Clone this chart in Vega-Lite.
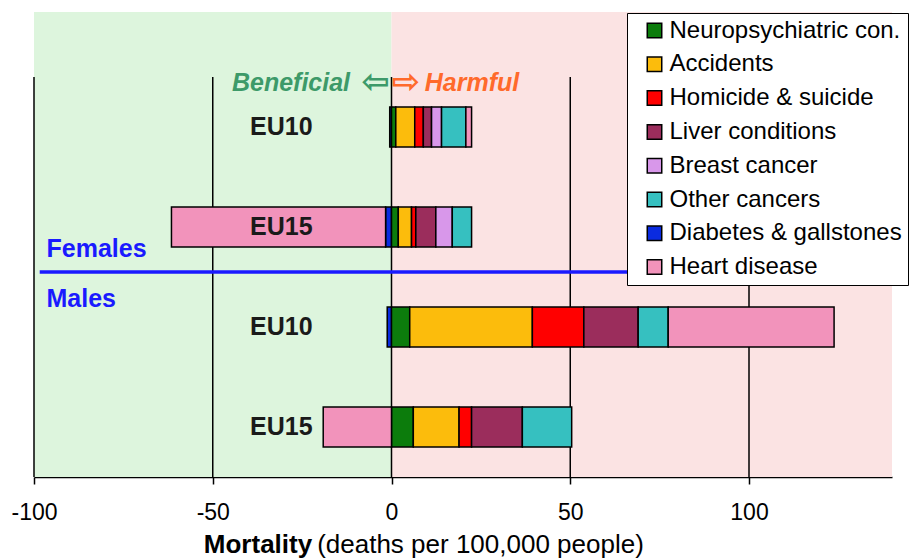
{
  "$schema": "https://vega.github.io/schema/vega-lite/v6.json",
  "width": 858,
  "height": 465,
  "autosize": {"type": "none"},
  "padding": {"left": 34, "top": 12, "right": 22, "bottom": 82},
  "background": "white",
  "config": {"font": "Liberation Sans", "view": {"stroke": null}},
  "datasets": {
    "zones": [
      {"zone": "Beneficial", "from": -100, "to": 0},
      {"zone": "Harmful", "from": 0, "to": 140}
    ],
    "grid": [{"v": -100}, {"v": -50}, {"v": 0}, {"v": 50}, {"v": 100}],
    "bars": [
      {"g": "F EU10", "cause": "Diabetes & gallstones", "k": 0, "v": -0.5},
      {"g": "F EU10", "cause": "Neuropsychiatric con.", "k": 1, "v": 1.2},
      {"g": "F EU10", "cause": "Accidents", "k": 2, "v": 5.3},
      {"g": "F EU10", "cause": "Homicide & suicide", "k": 3, "v": 2.4},
      {"g": "F EU10", "cause": "Liver conditions", "k": 4, "v": 2.3},
      {"g": "F EU10", "cause": "Breast cancer", "k": 5, "v": 2.8},
      {"g": "F EU10", "cause": "Other cancers", "k": 6, "v": 6.8},
      {"g": "F EU10", "cause": "Heart disease", "k": 7, "v": 1.6},
      {"g": "F EU15", "cause": "Diabetes & gallstones", "k": 0, "v": -1.65},
      {"g": "F EU15", "cause": "Neuropsychiatric con.", "k": 1, "v": 1.9},
      {"g": "F EU15", "cause": "Accidents", "k": 2, "v": 3.7},
      {"g": "F EU15", "cause": "Homicide & suicide", "k": 3, "v": 1.2},
      {"g": "F EU15", "cause": "Liver conditions", "k": 4, "v": 5.6},
      {"g": "F EU15", "cause": "Breast cancer", "k": 5, "v": 4.6},
      {"g": "F EU15", "cause": "Other cancers", "k": 6, "v": 5.4},
      {"g": "F EU15", "cause": "Heart disease", "k": 7, "v": -59.9},
      {"g": "M EU10", "cause": "Diabetes & gallstones", "k": 0, "v": -1.2},
      {"g": "M EU10", "cause": "Neuropsychiatric con.", "k": 1, "v": 5.1},
      {"g": "M EU10", "cause": "Accidents", "k": 2, "v": 34.3},
      {"g": "M EU10", "cause": "Homicide & suicide", "k": 3, "v": 14.4},
      {"g": "M EU10", "cause": "Liver conditions", "k": 4, "v": 15.2},
      {"g": "M EU10", "cause": "Other cancers", "k": 6, "v": 8.4},
      {"g": "M EU10", "cause": "Heart disease", "k": 7, "v": 46.4},
      {"g": "M EU15", "cause": "Neuropsychiatric con.", "k": 1, "v": 6.1},
      {"g": "M EU15", "cause": "Accidents", "k": 2, "v": 12.8},
      {"g": "M EU15", "cause": "Homicide & suicide", "k": 3, "v": 3.5},
      {"g": "M EU15", "cause": "Liver conditions", "k": 4, "v": 14.2},
      {"g": "M EU15", "cause": "Other cancers", "k": 6, "v": 13.8},
      {"g": "M EU15", "cause": "Heart disease", "k": 7, "v": -19.1}
    ],
    "groups": [
      {"g": "F EU10", "name": "EU10"},
      {"g": "F EU15", "name": "EU15"},
      {"g": "M EU10", "name": "EU10"},
      {"g": "M EU15", "name": "EU15"}
    ]
  },
  "layer": [
    {
      "data": {"name": "zones"},
      "mark": {"type": "rect"},
      "encoding": {
        "x": {
          "field": "from", "type": "quantitative",
          "scale": {"domain": [-100, 140], "nice": false, "zero": false},
          "axis": {
            "values": [-100, -50, 0, 50, 100], "title": null, "grid": false,
            "domainColor": "black", "domainWidth": 1.5,
            "tickColor": "black", "tickWidth": 1.5, "tickSize": 7,
            "labelFontSize": 23, "labelColor": "black", "labelPadding": 17,
            "labelFlush": false, "labelOverlap": false,
            "labelExpr": "datum.value < 0 ? '-' + abs(datum.value) : '' + datum.value"
          }
        },
        "x2": {"field": "to"},
        "fill": {
          "field": "zone", "type": "nominal",
          "scale": {"domain": ["Beneficial", "Harmful"], "range": ["#ddf5dd", "#fbe3e3"]},
          "legend": null
        }
      }
    },
    {
      "data": {"name": "grid"},
      "mark": {"type": "rule", "color": "black", "strokeWidth": 1.5},
      "encoding": {
        "x": {"field": "v", "type": "quantitative"},
        "y": {"datum": "F EU10", "type": "nominal", "bandPosition": -0.75, "axis": null},
        "y2": {"datum": "M EU15", "bandPosition": 1.75}
      }
    },
    {
      "data": {"name": "bars"},
      "mark": {"type": "bar", "stroke": "black", "strokeWidth": 1.5},
      "encoding": {
        "x": {"field": "v", "type": "quantitative", "stack": "zero"},
        "y": {
          "field": "g", "type": "nominal", "axis": null,
          "scale": {
            "domain": ["F EU10", "F EU15", "M EU10", "M EU15"],
            "paddingInner": 0.6, "paddingOuter": 0.625, "align": 0.76
          }
        },
        "order": {"field": "k", "type": "quantitative"},
        "color": {
          "field": "cause", "type": "nominal",
          "scale": {
            "domain": ["Neuropsychiatric con.", "Accidents", "Homicide & suicide", "Liver conditions", "Breast cancer", "Other cancers", "Diabetes & gallstones", "Heart disease"],
            "range": ["#0c7c0c", "#fcbc0c", "#ff0000", "#9b2d5c", "#d897ea", "#36c0c0", "#0a2be0", "#f293bb"]
          },
          "legend": {
            "title": null, "orient": "none", "legendX": 593, "legendY": 1,
            "fillColor": "white", "strokeColor": "black",
            "padding": 5.5, "rowPadding": 9.8,
            "symbolType": "square", "symbolSize": 210,
            "symbolStrokeColor": "black", "symbolStrokeWidth": 1.5,
            "symbolOpacity": 1, "symbolOffset": 10,
            "labelOffset": 3, "labelFontSize": 24, "labelColor": "black",
            "labelLimit": 400
          }
        }
      }
    },
    {
      "data": {"values": [{"t": "divider"}]},
      "mark": {"type": "rule", "color": "#1a1aff", "strokeWidth": 3.5},
      "encoding": {
        "x": {"datum": -98.4},
        "x2": {"datum": 68},
        "y": {"datum": "M EU10", "type": "nominal", "bandPosition": -0.875, "axis": null}
      }
    },
    {
      "data": {"name": "groups"},
      "mark": {"type": "text", "align": "center", "baseline": "middle", "fontSize": 25, "fontWeight": "bold", "color": "#1a1a1a"},
      "encoding": {
        "x": {"datum": -30.8},
        "y": {"field": "g", "type": "nominal", "axis": null},
        "text": {"field": "name"}
      }
    },
    {
      "data": {"values": [{"t": "Females"}]},
      "mark": {"type": "text", "align": "left", "baseline": "alphabetic", "fontSize": 25, "fontWeight": "bold", "color": "#1a1aff"},
      "encoding": {
        "x": {"datum": -96.5},
        "y": {"datum": "F EU15", "type": "nominal", "bandPosition": 1.24, "axis": null},
        "text": {"field": "t"}
      }
    },
    {
      "data": {"values": [{"t": "Males"}]},
      "mark": {"type": "text", "align": "left", "baseline": "alphabetic", "fontSize": 25, "fontWeight": "bold", "color": "#1a1aff"},
      "encoding": {
        "x": {"datum": -96.5},
        "y": {"datum": "M EU10", "type": "nominal", "bandPosition": 0, "axis": null},
        "text": {"field": "t"}
      }
    },
    {
      "data": {"values": [{"t": "Beneficial"}]},
      "mark": {"type": "text", "align": "right", "baseline": "alphabetic", "fontSize": 25, "fontWeight": "bold", "fontStyle": "italic", "color": "#3d9a69"},
      "encoding": {
        "x": {"datum": -11.6},
        "y": {"datum": "F EU10", "type": "nominal", "bandPosition": -0.41, "axis": null},
        "text": {"field": "t"}
      }
    },
    {
      "data": {"values": [{"t": "⇦"}]},
      "mark": {"type": "text", "align": "right", "baseline": "middle", "fontSize": 34, "font": "DejaVu Sans", "fontWeight": "bold", "color": "#3d9a69"},
      "encoding": {
        "x": {"datum": -0.4},
        "y": {"datum": "F EU10", "type": "nominal", "bandPosition": -0.6, "axis": null},
        "text": {"field": "t"}
      }
    },
    {
      "data": {"values": [{"t": "⇨"}]},
      "mark": {"type": "text", "align": "left", "baseline": "middle", "fontSize": 34, "font": "DejaVu Sans", "fontWeight": "bold", "color": "#ff6a2b"},
      "encoding": {
        "x": {"datum": 0.1},
        "y": {"datum": "F EU10", "type": "nominal", "bandPosition": -0.6, "axis": null},
        "text": {"field": "t"}
      }
    },
    {
      "data": {"values": [{"t": "Harmful"}]},
      "mark": {"type": "text", "align": "left", "baseline": "alphabetic", "fontSize": 25, "fontWeight": "bold", "fontStyle": "italic", "color": "#ff6a2b"},
      "encoding": {
        "x": {"datum": 9.3},
        "y": {"datum": "F EU10", "type": "nominal", "bandPosition": -0.41, "axis": null},
        "text": {"field": "t"}
      }
    },
    {
      "data": {"values": [{"t": "Mortality"}]},
      "mark": {"type": "text", "align": "left", "baseline": "alphabetic", "fontSize": 26, "fontWeight": "bold", "color": "black"},
      "encoding": {
        "x": {"datum": -52.5},
        "y": {"datum": "M EU15", "type": "nominal", "bandPosition": 3.65, "axis": null},
        "text": {"field": "t"}
      }
    },
    {
      "data": {"values": [{"t": "(deaths per 100,000 people)"}]},
      "mark": {"type": "text", "align": "left", "baseline": "alphabetic", "fontSize": 26, "color": "black"},
      "encoding": {
        "x": {"datum": -20.8},
        "y": {"datum": "M EU15", "type": "nominal", "bandPosition": 3.65, "axis": null},
        "text": {"field": "t"}
      }
    }
  ]
}
